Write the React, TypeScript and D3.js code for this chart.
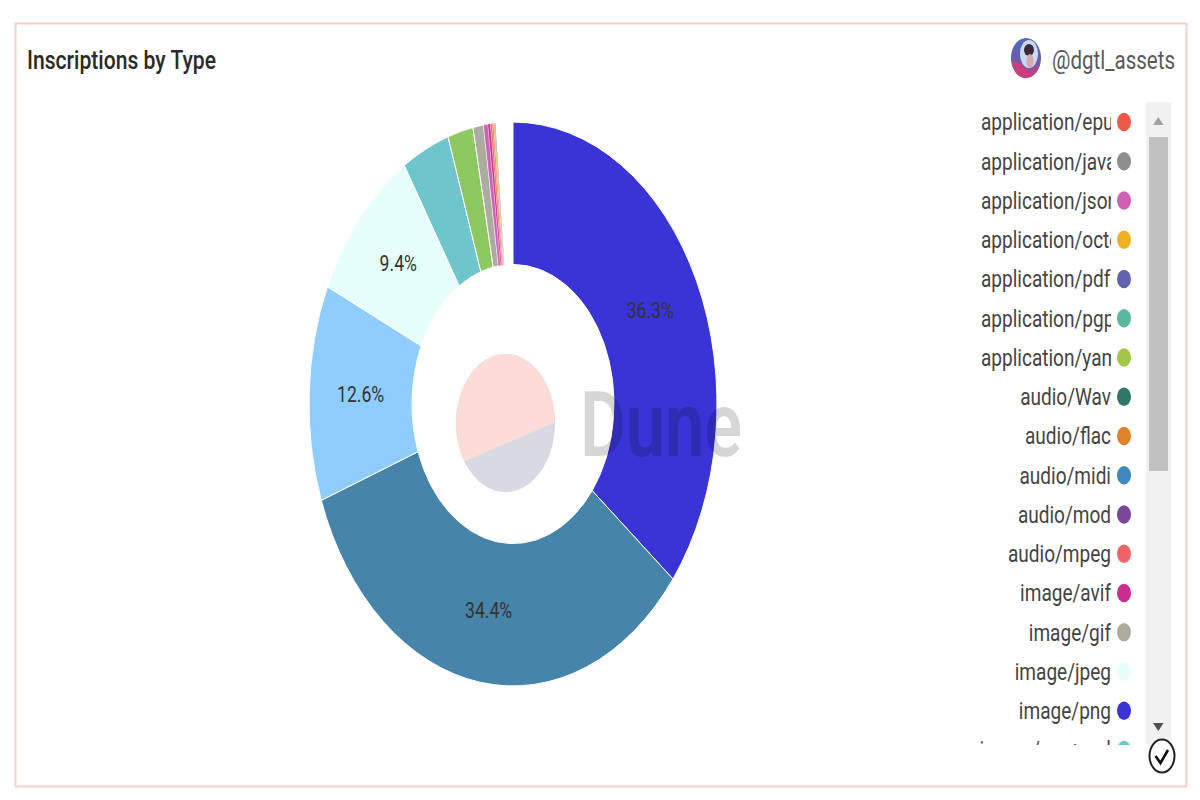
import React from "react";
import * as d3 from "d3";

const sliceNames = ["image/png", "text/plain", "text/html", "image/jpeg", "image/svg+xml", "image/webp", "image/gif", "application/json", "image/avif", "audio/mpeg", "application/epub", "application/octet-stream", "video/mp4"];
const sliceValues = [36.3, 34.4, 12.6, 9.4, 3.85, 2.05, 0.85, 0.35, 0.2, 0.15, 0.1, 0.1, 0.05];
const sliceColors = ["#3A34D6", "#4685A9", "#8FCDFF", "#E6FFFA", "#6FC5CC", "#8DC760", "#ABABA0", "#CD62B4", "#CB2D8E", "#EC6464", "#EE5A46", "#EFB124", "#5A6A60"];
const labelledSlices = ["image/png", "text/plain", "text/html", "image/jpeg"];
const pieTotal = 101.8;

const legendNames = ["application/epub", "application/javascript", "application/json", "application/octet-stream", "application/pdf", "application/pgp", "application/yaml", "audio/Wav", "audio/flac", "audio/midi", "audio/mod", "audio/mpeg", "image/avif", "image/gif", "image/jpeg", "image/png", "image/svg+xml"];
const legendColors = ["#EE5A46", "#8E8E8E", "#CD62B4", "#EFB124", "#6163AE", "#5BB8A0", "#A2C748", "#2F7766", "#E0842C", "#4089BC", "#7A479B", "#EC6464", "#CB2D8E", "#ABABA0", "#E6FFFA", "#3A34D6", "#6FC5CC"];

const FONT = "Roboto, 'Noto Sans', sans-serif";
const SY = 1.382;

function StretchText({ x, y, size, anchor = "start", fill = "#333", weight = 400, width, sx = 1, children }: any) {
  return (
    <g transform={`translate(${x},${y}) scale(${sx},${SY})`}>
      <text
        fontFamily={FONT}
        fontSize={size}
        fontWeight={weight}
        textAnchor={anchor}
        fill={fill}
        dominantBaseline="central"
        {...(width ? { textLength: width, lengthAdjust: "spacingAndGlyphs" } : {})}
      >
        {children}
      </text>
    </g>
  );
}

export default function App() {
  const rx = 204;
  const inner = 101;
  const sum = d3.sum(sliceValues);
  const pie = d3
    .pie<number>()
    .sort(null)
    .startAngle(0)
    .endAngle((2 * Math.PI * sum) / pieTotal);
  const arcs = pie(sliceValues);
  const arc = d3.arc<d3.PieArcDatum<number>>().innerRadius(inner).outerRadius(rx);
  const rowY = d3.scaleLinear().domain([0, 16]).range([122, 750]);

  return (
    <svg width={1200} height={800} style={{ position: "fixed", left: 0, top: 0, background: "#fff" }}>
      <defs>
        <clipPath id="legendClip">
          <rect x={960} y={102} width={151} height={643} />
        </clipPath>
        <clipPath id="dotClip">
          <rect x={1112} y={102} width={30} height={643} />
        </clipPath>
        <clipPath id="logoUpper">
          <polygon points="445,470 565,418 565,340 445,340" />
        </clipPath>
        <linearGradient id="avatarRing" x1="0" y1="0" x2="0" y2="1">
          <stop offset="0" stopColor="#4F6DB8" />
          <stop offset="0.55" stopColor="#6A5CA8" />
          <stop offset="1" stopColor="#C8407F" />
        </linearGradient>
      </defs>
      <rect x={15.5} y={23.5} width={1171} height={763} fill="#fff" stroke="#F8CFCA" strokeWidth={2} />
      <StretchText x={27} y={60} size={18.5} weight={500} fill="#2A2A2A" width={189}>Inscriptions by Type</StretchText>

      <ellipse cx={1026} cy={58} rx={15} ry={20} fill="url(#avatarRing)" />
      <ellipse cx={1029} cy={54} rx={9} ry={14} fill="#C9D9F0" />
      <path d="M1012,62 Q1020,60 1027,72 L1034,72 Q1030,78 1024,78 Q1014,76 1012,62Z" fill="#C8407F" />
      <ellipse cx={1029} cy={50} rx={5} ry={6} fill="#3A2A3A" />
      <ellipse cx={1030} cy={61} rx={3.5} ry={7} fill="#D9A9B0" />
      <StretchText x={1052} y={60} size={18.5} fill="#5A5A5A" width={123}>@dgtl_assets</StretchText>

      <g transform={`translate(513,404) scale(1,${SY})`}>
        {arcs.map((a, i) => (
          <path key={sliceNames[i]} d={arc(a) as string} fill={sliceColors[i]} stroke="#fff" strokeWidth={i > 6 ? 0.3 : 1} vectorEffect="non-scaling-stroke" />
        ))}
      </g>

      <ellipse cx={505.5} cy={423} rx={49.5} ry={69} fill="#D9D9E3" />
      <ellipse cx={505.5} cy={423} rx={49.5} ry={69} fill="#FDDBD6" clipPath="url(#logoUpper)" />
      <g transform={`translate(580,424) scale(1,${SY})`}>
        <text fontFamily={FONT} fontSize={66} fontWeight={600} fill="#000" fillOpacity={0.16} dominantBaseline="central" textLength={162} lengthAdjust="spacingAndGlyphs">Dune</text>
      </g>

      {arcs.map((a, i) => {
        if (!labelledSlices.includes(sliceNames[i])) return null;
        const [cx, cy] = arc.centroid(a);
        return (
          <StretchText key={sliceNames[i]} x={513 + cx} y={402.5 + cy * SY} size={16} sx={1.1} anchor="middle" fill="#333">
            {`${sliceValues[i].toFixed(1)}%`}
          </StretchText>
        );
      })}

      <g clipPath="url(#legendClip)">
        {legendNames.map((n, i) => {
          const isLong = n.startsWith("application/");
          return (
            <StretchText key={n} x={isLong ? 981 : 1111} y={rowY(i)} size={17.3} sx={1.1} anchor={isLong ? "start" : "end"} fill="#444">
              {n}
            </StretchText>
          );
        })}
      </g>
      <g clipPath="url(#dotClip)">
        {legendColors.map((c, i) => (
          <ellipse key={legendNames[i]} cx={1124} cy={rowY(i)} rx={7} ry={9.2} fill={c} />
        ))}
      </g>

      <rect x={1146} y={102} width={25.5} height={642} fill="#F1F1F1" />
      <rect x={1149} y={137} width={19} height={334} fill="#C1C1C1" />
      <path d="M1153,125 L1158.3,117 L1163.5,125Z" fill="#A3A3A3" />
      <path d="M1153,723 L1163.5,723 L1158.3,731Z" fill="#505050" />

      <ellipse cx={1162} cy={756} rx={12.5} ry={16.5} fill="#fff" stroke="#222" strokeWidth={2} />
      <path d="M1155.5,756 L1160.5,763 L1168,750" fill="none" stroke="#111" strokeWidth={2.6} />
    </svg>
  );
}
